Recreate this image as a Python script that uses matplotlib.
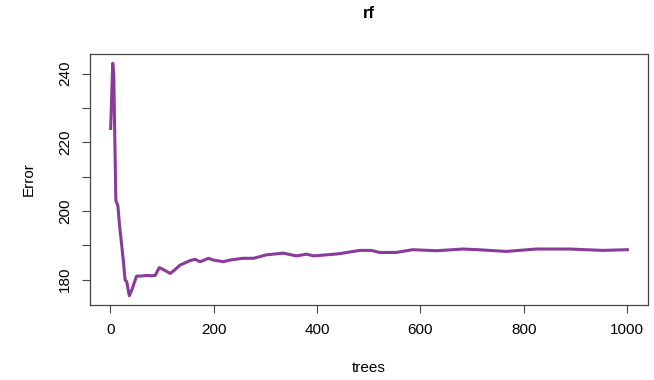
import matplotlib
matplotlib.use("Agg")
import matplotlib.pyplot as plt

# out-of-bag error vs number of trees
trees = [1, 5, 7, 11, 15, 18, 22, 25, 29, 32, 37, 42, 51, 58, 71, 80, 87, 95,
         103, 116, 124, 135, 154, 164, 174, 190, 199, 219, 232, 257, 277, 290,
         302, 335, 360, 380, 393, 418, 441, 483, 505, 521, 553, 585, 631, 682,
         711, 766, 824, 888, 952, 1000]
error = [224.0, 243.0, 239.7, 203.0, 201.5, 196.0, 190.5, 186.2, 179.8, 179.4,
         175.3, 177.0, 181.0, 181.0, 181.2, 181.1, 181.2, 183.5,
         182.9, 181.8, 182.7, 184.2, 185.5, 185.9, 185.2, 186.2, 185.7, 185.2,
         185.7, 186.2, 186.2, 186.7, 187.2, 187.7, 186.9, 187.4, 186.9, 187.2,
         187.5, 188.5, 188.5, 187.9, 187.9, 188.7, 188.4, 188.9,
         188.7, 188.2, 188.9, 188.9, 188.5, 188.7]

xticks = [0, 200, 400, 600, 800, 1000]
yticks = [180, 190, 200, 210, 220, 230, 240]
ylabels = ['180', '', '200', '', '220', '', '240']

plt.rcParams['font.family'] = ['Liberation Sans', 'DejaVu Sans']

fig = plt.figure(figsize=(6.54, 3.80), dpi=100)
ax = fig.add_axes([90 / 654, 1 - 305 / 380, 558 / 654, 251 / 380])

ax.plot(trees, error, color='#8a3a9c', lw=2.2, solid_joinstyle='round')

# R style 4% padding
xr = max(trees) - min(trees)
yr = max(error) - min(error)
ax.set_xlim(min(trees) - 0.04 * xr, max(trees) + 0.04 * xr)
ax.set_ylim(min(error) - 0.04 * yr, max(error) + 0.04 * yr)

ax.set_xticks(xticks)
ax.set_yticks(yticks)
ax.set_yticklabels(ylabels, rotation=90, va='center')
ax.tick_params(labelsize=11, length=6, color='#444444', pad=7)
for s in ax.spines.values():
    s.set_color('#444444')
    s.set_linewidth(0.9)

ax.set_title('rf', fontsize=12, fontweight='bold', pad=26)
ax.set_xlabel('trees', fontsize=11, labelpad=17)
ax.set_ylabel('Error', fontsize=11, labelpad=16)

fig.savefig('out.png', dpi=100)
